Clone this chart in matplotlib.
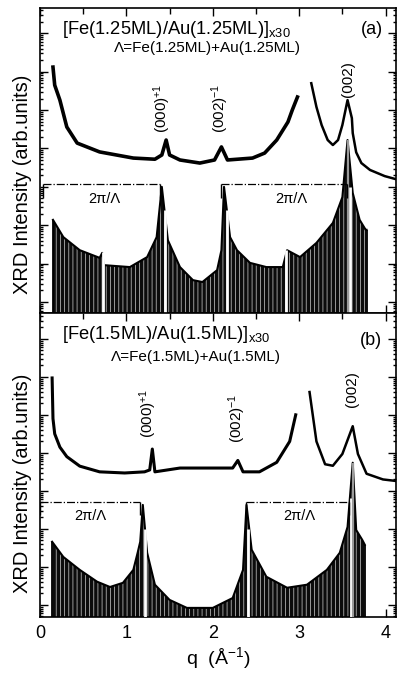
import numpy as np
import matplotlib.pyplot as plt
from matplotlib.ticker import MultipleLocator, NullFormatter, LogLocator

plt.rcParams['font.family'] = ['Liberation Sans', 'DejaVu Sans']
plt.rcParams['mathtext.fontset'] = 'custom'
plt.rcParams['mathtext.rm'] = 'Liberation Sans'
plt.rcParams['mathtext.it'] = 'Liberation Sans:italic'
plt.rcParams['hatch.linewidth'] = 0.6

# ---- (a) Fe(1.25ML)/Au(1.25ML) : measured curve, log10 intensity (two pieces, substrate peak cut out)
qa_exp1 = [0.15, 0.17, 0.23, 0.31, 0.43, 0.69, 1.08, 1.33, 1.41, 1.46, 1.50, 1.62, 1.85, 2.02, 2.10, 2.17, 2.46, 2.60, 2.74, 2.87, 2.92, 2.98]
la_exp1 = [6.12, 5.65, 5.26, 4.56, 4.14, 3.91, 3.75, 3.72, 3.83, 4.22, 3.83, 3.70, 3.62, 3.70, 4.04, 3.70, 3.75, 3.88, 4.22, 4.69, 5.00, 5.34]
qa_exp2 = [3.14, 3.20, 3.26, 3.33, 3.39, 3.45, 3.50, 3.56, 3.61, 3.62, 3.66, 3.72, 3.82, 3.99, 4.12]
la_exp2 = [5.70, 5.08, 4.61, 4.22, 4.09, 4.22, 4.61, 5.26, 4.79, 4.40, 3.90, 3.62, 3.44, 3.28, 3.20]
# (a) simulated envelope
qa_sim = [0.15, 0.27, 0.46, 0.69, 0.72, 0.74, 1.04, 1.24, 1.35, 1.41, 1.48, 1.62, 1.77, 1.88, 2.05, 2.10, 2.13, 2.20, 2.28, 2.43, 2.62, 2.81, 2.86, 3.01, 3.20, 3.39, 3.50, 3.56, 3.62, 3.70, 3.77, 3.78]
la_sim = [2.14, 1.69, 1.35, 1.15, 1.28, 0.96, 0.91, 1.17, 1.69, 3.00, 1.61, 0.91, 0.57, 0.52, 0.83, 1.35, 3.00, 1.69, 1.35, 1.02, 0.91, 0.91, 1.35, 1.17, 1.54, 2.06, 2.73, 4.22, 2.84, 2.14, 1.88, 1.88]
qa_gap = [0.73, 1.45, 2.16, 2.85, 3.59]
la_gap = [1.30, 2.40, 2.40, 1.35, 3.00]
qa_bragg = [3.565]
la_bragg = [4.22]
qa_brackets = [(0.03, 1.39), (2.10, 3.55)]
la_bracket = 3.07
qa_bktext = [0.75, 2.91]
qa_peaklab = [1.41, 2.08, 3.56]
la_peaklab = [4.40, 4.40, 5.34]
a_peaktext = ['(000)$^{+1}$', '(002)$^{-1}$', '(002)']

# ---- (b) Fe(1.5ML)/Au(1.5ML)
qb_exp1 = [0.14, 0.15, 0.17, 0.23, 0.31, 0.46, 0.69, 0.98, 1.21, 1.27, 1.30, 1.33, 1.62, 2.00, 2.23, 2.29, 2.35, 2.54, 2.74, 2.89, 2.96]
lb_exp1 = [5.97, 4.90, 4.50, 4.15, 3.90, 3.65, 3.50, 3.47, 3.50, 3.55, 4.10, 3.50, 3.60, 3.60, 3.60, 3.80, 3.50, 3.50, 3.75, 4.30, 5.00]
qb_exp2 = [3.12, 3.20, 3.30, 3.39, 3.50, 3.62, 3.68, 3.78, 3.97, 4.12]
lb_exp2 = [5.60, 4.30, 3.70, 3.66, 3.97, 4.70, 3.97, 3.45, 3.30, 3.26]
qb_sim = [0.14, 0.27, 0.46, 0.66, 0.81, 0.96, 1.08, 1.13, 1.16, 1.19, 1.24, 1.33, 1.50, 1.70, 2.00, 2.23, 2.35, 2.39, 2.45, 2.62, 2.86, 3.09, 3.32, 3.47, 3.56, 3.62, 3.66, 3.73, 3.76]
lb_sim = [1.66, 1.26, 0.92, 0.61, 0.47, 0.58, 0.92, 1.37, 1.66, 2.63, 1.37, 0.53, 0.13, -0.08, -0.08, 0.18, 0.92, 2.63, 1.45, 0.74, 0.45, 0.53, 0.92, 1.37, 2.05, 3.74, 1.97, 1.71, 1.58]
qb_gap = [1.22, 2.41, 3.60]
lb_gap = [2.00, 2.00, 2.80]
qb_bragg = [3.625]
lb_bragg = [3.74]
qb_brackets = [(0.00, 1.16), (2.39, 3.58)]
lb_bracket = 2.71
qb_bktext = [0.58, 3.00]
qb_peaklab = [1.25, 2.28, 3.61]
lb_peaklab = [4.39, 4.26, 5.21]
b_peaktext = ['(000)$^{+1}$', '(002)$^{-1}$', '(002)']


def draw_panel(ax, ylo, yhi, q1, l1, q2, l2, qs, ls, qg, lg, qbr, lbr, brackets, lbk, qbt,
               qlab, llab, ptext, lw_exp):
    P = lambda v: 10.0 ** np.asarray(v, dtype=float)
    ax.set_yscale('log')
    ax.set_xlim(0, 4.12)
    ax.set_ylim(10 ** ylo, 10 ** yhi)
    base = 10 ** (ylo - 1)

    # simulated pattern: dense fringes under the envelope
    ax.fill_between(qs, base, P(ls), facecolor='#0c0c0c', edgecolor='#b0b0b0',
                    hatch='||||', linewidth=0, zorder=2)
    ax.plot(qs, P(ls), color='k', lw=1.5, zorder=3)
    ax.vlines([qs[0], qs[-1]], base, P([ls[0], ls[-1]]), color='k', lw=1.3, zorder=3)
    ax.vlines(qg, base, P(lg), color='white', lw=2.0, zorder=3)
    ax.vlines(qbr, base, P(lbr), color='#9a9a9a', lw=1.6, zorder=3)

    # 2pi/Lambda brackets
    for (q0, q1b), qt in zip(brackets, qbt):
        ax.plot([q0, q1b], P([lbk, lbk]), color='k', lw=0.9, ls='-.', zorder=4)
        ax.vlines([q0, q1b], P(lbk - 0.35), P(lbk), color='k', lw=1.0, zorder=4)
        ax.text(qt, P(lbk - 0.38), '2π/Λ', ha='center', va='center', fontsize=10.5, zorder=5)

    # measured curve
    ax.plot(q1, P(l1), color='k', lw=lw_exp, zorder=5, solid_joinstyle='round')
    ax.plot(q2, P(l2), color='k', lw=1.8, zorder=5, solid_joinstyle='round')

    for q, l, t in zip(qlab, llab, ptext):
        ax.text(q, P(l), t, rotation=90, ha='center', va='bottom', fontsize=11, zorder=6)

    ax.xaxis.set_major_locator(MultipleLocator(1))
    ax.xaxis.set_minor_locator(MultipleLocator(0.5))
    ax.yaxis.set_major_locator(LogLocator(base=10, numticks=20))
    ax.yaxis.set_minor_locator(LogLocator(base=10, subs=np.arange(2, 10), numticks=20))
    ax.yaxis.set_minor_formatter(NullFormatter())
    ax.tick_params(which='both', direction='in', top=True, right=True, width=1.0)
    ax.tick_params(which='major', length=5.5)
    ax.tick_params(which='minor', length=2.5)
    ax.tick_params(axis='x', which='minor', length=4)
    ax.tick_params(labelleft=False)
    for s in ax.spines.values():
        s.set_linewidth(1.2)


fig = plt.figure(figsize=(3.99, 6.77), dpi=100)
ax_a = fig.add_axes([0.1003, 0.5377, 0.892, 0.4505])
ax_b = fig.add_axes([0.1003, 0.0886, 0.892, 0.4491])

draw_panel(ax_a, -0.286, 7.66, qa_exp1, la_exp1, qa_exp2, la_exp2, qa_sim, la_sim, qa_gap, la_gap,
           qa_bragg, la_bragg, qa_brackets, la_bracket, qa_bktext, qa_peaklab, la_peaklab, a_peaktext, 2.6)
draw_panel(ax_b, -0.32, 7.68, qb_exp1, lb_exp1, qb_exp2, lb_exp2, qb_sim, lb_sim, qb_gap, lb_gap,
           qb_bragg, lb_bragg, qb_brackets, lb_bracket, qb_bktext, qb_peaklab, lb_peaklab, b_peaktext, 2.2)

ax_a.tick_params(labelbottom=False)
ax_b.tick_params(axis='x', labelsize=13, pad=6)
ax_b.set_xlabel('q  (Å$^{-1}$)', fontsize=14, labelpad=2)

ax_a.text(0.062, 0.928, '[Fe(1.25ML)/Au(1.25ML)]$_{\\mathrm{x30}}$', transform=ax_a.transAxes,
          fontsize=13.2, va='center', ha='left')
ax_a.text(0.469, 0.869, 'Λ=Fe(1.25ML)+Au(1.25ML)', transform=ax_a.transAxes,
          fontsize=11, va='center', ha='center')
ax_a.text(0.933, 0.928, '(a)', transform=ax_a.transAxes, fontsize=13, va='center', ha='center')

ax_b.text(0.062, 0.928, '[Fe(1.5ML)/Au(1.5ML)]$_{\\mathrm{x30}}$', transform=ax_b.transAxes,
          fontsize=13.2, va='center', ha='left')
ax_b.text(0.438, 0.855, 'Λ=Fe(1.5ML)+Au(1.5ML)', transform=ax_b.transAxes,
          fontsize=11, va='center', ha='center')
ax_b.text(0.93, 0.911, '(b)', transform=ax_b.transAxes, fontsize=13, va='center', ha='center')

ax_a.set_ylabel('XRD Intensity (arb.units)', fontsize=14.5)
ax_a.yaxis.set_label_coords(-0.022, 0.423)
ax_b.set_ylabel('XRD Intensity (arb.units)', fontsize=14.5)
ax_b.yaxis.set_label_coords(-0.022, 0.44)

fig.savefig('out.png', dpi=100)
